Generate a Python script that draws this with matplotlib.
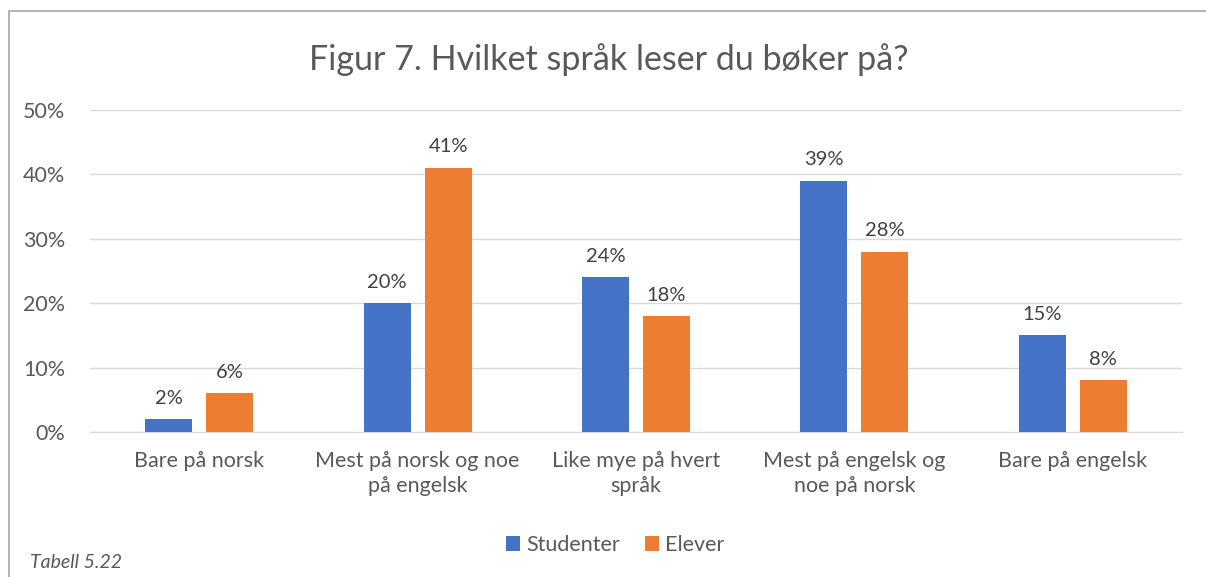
import matplotlib.pyplot as plt
import numpy as np
from matplotlib.patches import Rectangle

categories = ['Bare på norsk', 'Mest på norsk og noe\npå engelsk', 'Like mye på hvert\nspråk',
              'Mest på engelsk og\nnoe på norsk', 'Bare på engelsk']
studenter = [2, 20, 24, 39, 15]
elever = [6, 41, 18, 28, 8]

plt.rcParams['font.family'] = ['Lato', 'DejaVu Sans']
text_color = '#595959'

fig = plt.figure(figsize=(12.06, 5.77), dpi=100)
ax = fig.add_axes([90 / 1206, 1 - 432 / 577, (1182 - 90) / 1206, (432 - 110) / 577])

x = np.arange(len(categories))
w = 0.215
b1 = ax.bar(x - 0.14, studenter, w, color='#4472c4', label='Studenter', zorder=3)
b2 = ax.bar(x + 0.14, elever, w, color='#ed7d31', label='Elever', zorder=3)

for bars in (b1, b2):
    for r in bars:
        ax.annotate(f'{r.get_height():.0f}%', (r.get_x() + r.get_width() / 2, r.get_height()),
                    xytext=(0, 9), textcoords='offset points', ha='center', va='bottom',
                    fontsize=14.5, color='#404040')

ax.set_xlim(-0.5, 4.5)
ax.set_ylim(0, 50)
ax.set_yticks(range(0, 51, 10))
ax.set_yticklabels([f'{v}%' for v in range(0, 51, 10)])
ax.set_xticks(x)
ax.set_xticklabels(categories, linespacing=1.3)
ax.tick_params(length=0, labelsize=15.5, labelcolor=text_color)
ax.tick_params(axis='x', pad=14)
ax.tick_params(axis='y', pad=18)
ax.grid(axis='y', color='#d9d9d9', linewidth=1, zorder=0)
for s in ['top', 'right', 'left']:
    ax.spines[s].set_visible(False)
ax.spines['bottom'].set_color('#d9d9d9')

fig.text(609 / 1206, 1 - 60 / 577, 'Figur 7. Hvilket språk leser du bøker på?', ha='center', va='center',
         fontsize=24.5, color=text_color)
fig.text(30 / 1206, 1 - 563 / 577, 'Tabell 5.22', ha='left', va='center', fontsize=14,
         style='italic', color=text_color)

fig.legend(loc='center', bbox_to_anchor=(615 / 1206, 1 - 545 / 577), ncol=2, frameon=False,
           fontsize=15.5, labelcolor=text_color, handlelength=0.65, handleheight=0.65,
           handletextpad=0.3, columnspacing=1.15)

fig.patches.append(Rectangle((9 / 1206, -0.1), 1.2, 1.1 - 11 / 577, transform=fig.transFigure,
                             fill=False, edgecolor='#a6a6a6', linewidth=1.2))

fig.savefig('out.png', dpi=100)
